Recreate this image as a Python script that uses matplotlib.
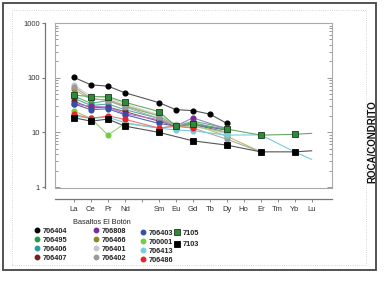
import numpy as np
import matplotlib
matplotlib.use('Agg')
import matplotlib.pyplot as plt
from matplotlib.patches import Rectangle
from matplotlib.lines import Line2D
from matplotlib.ticker import FixedLocator, FixedFormatter, LogLocator, NullFormatter

plt.rcParams['font.family'] = ['Liberation Sans', 'DejaVu Sans']

elements = ['La', 'Ce', 'Pr', 'Nd', 'Pm', 'Sm', 'Eu', 'Gd', 'Tb', 'Dy', 'Ho', 'Er', 'Tm', 'Yb', 'Lu']
tick_labels = ['La', 'Ce', 'Pr', 'Nd', '', 'Sm', 'Eu', 'Gd', 'Tb', 'Dy', 'Ho', 'Er', 'Tm', 'Yb', 'Lu']
y_ticks = [1, 10, 100, 1000]
y_tick_labels = ['1', '10', '100', '1000']
nan = np.nan

# La Ce Pr Nd Pm Sm Eu Gd Tb Dy Ho Er Tm Yb Lu
s706404 = [101, 74, 70, 53, nan, 35, 26, 25, 21.6, 14.6, nan, nan, nan, nan, nan]
s706495 = [46, 34, 38, 30, nan, 20, 13, 16, nan, 12, nan, nan, nan, nan, nan]
s706406 = [42, 31, 33, 26, nan, 18, 13, 15, nan, 11, nan, nan, nan, nan, nan]
s706407 = [37, 28, 29, 24, nan, 16, 13, 14, nan, 10, nan, nan, nan, nan, nan]
s706808 = [33, 30, 29, 22, nan, 17, 13, 18.5, nan, 11.5, nan, nan, nan, nan, nan]
s706466 = [61, 40, 40, 31, nan, 20.7, 13, 14, nan, 8.5, nan, 4.4, nan, nan, nan]
s706401 = [73, 46, 43, 33, nan, 21, 14, 13, nan, 9.5, nan, nan, nan, nan, nan]
s706402 = [68, 42, 38, 29, nan, 18, 13, 12, nan, 7.5, nan, 4.4, nan, nan, nan]
s706403 = [33, 26, 27, 21, nan, 14.6, 13, 14, nan, 11, nan, nan, nan, nan, nan]
s700001 = [24.5, 18, 8.9, 14.6, nan, 12, 13, 13, nan, 10, nan, nan, nan, nan, nan]
s706413 = [20, 18, 19, 15, nan, 12, 11, 10.7, nan, 8.9, nan, 9, nan, 4.4, 3.2]
s706486 = [21.3, 18, 20, 17.3, nan, 12, 13, 12, nan, nan, nan, nan, nan, nan, nan]
s7105 = [48, 45, 45, 35.5, nan, 24, 13, 14.2, nan, 11.5, nan, 8.9, nan, 9.2, 9.6]
s7103 = [18.5, 16, 17.5, 13, nan, 10, nan, 7.0, nan, 5.85, nan, 4.4, nan, 4.4, 4.6]

series = [
    ('706404', s706404, 'o', '#000000', '#555555'),
    ('706495', s706495, 'o', '#1f9e4a', '#55bb77'),
    ('706406', s706406, 'o', '#2a9d9d', '#55aaaa'),
    ('706407', s706407, 'o', '#7a1f1f', '#995555'),
    ('706808', s706808, 'o', '#7b2a9a', '#aa77cc'),
    ('706466', s706466, 'o', '#8a8a2a', '#bbbb66'),
    ('706401', s706401, 'o', '#c8c8d0', '#d0d0d8'),
    ('706402', s706402, 'o', '#9a9a9a', '#aaaaaa'),
    ('706403', s706403, 'o', '#3350aa', '#5566bb'),
    ('700001', s700001, 'o', '#77cc44', '#99cc77'),
    ('706413', s706413, 'o', '#77ccdd', '#77ccdd'),
    ('706486', s706486, 'o', '#ee2222', '#ee7777'),
    ('7105', s7105, 's', '#2e8b3e', '#66aa66'),
    ('7103', s7103, 's', '#000000', '#555555'),
]

W, H = 385, 281
fig = plt.figure(figsize=(W / 100, H / 100), dpi=100)
fig.patch.set_facecolor('white')

rect = [55 / W, (H - 188) / H, 277 / W, 165 / H]
ax = fig.add_axes(rect)
ax.patch.set_visible(False)
ax.set_yscale('log')
ax.set_ylim(0.96, 1000)
ax.set_xlim(-1.12, 15.2)

x = np.arange(len(elements))
for label, vals, mk, mc, lc in series:
    v = np.array(vals, dtype=float)
    ok = ~np.isnan(v)
    xs, ys = x[ok], v[ok]
    mev = [i for i, xi in enumerate(xs) if xi != 14]
    if mk == 's':
        ax.plot(xs, ys, color=lc, lw=0.8, marker='s', markersize=4.0,
                markerfacecolor=mc, markeredgecolor='#1a3a1a' if mc != '#000000' else '#000000',
                markeredgewidth=0.6, markevery=mev, zorder=4)
    else:
        ax.plot(xs, ys, color=lc, lw=0.8, marker='o', markersize=3.4,
                markerfacecolor=mc, markeredgecolor=mc, markevery=mev, zorder=3)

for side in ['top', 'right']:
    ax.spines[side].set_visible(False)
ax.spines['left'].set_position(('outward', 7.2))
ax.spines['bottom'].set_position(('outward', 7.9))
ax.spines['left'].set_color('#777777')
ax.spines['bottom'].set_color('#777777')
ax.spines['left'].set_linewidth(0.9)
ax.spines['bottom'].set_linewidth(0.9)

ax.yaxis.set_major_locator(FixedLocator(y_ticks))
ax.yaxis.set_major_formatter(FixedFormatter(y_tick_labels))
ax.yaxis.set_minor_locator(FixedLocator([]))
ax.set_xticks(x)
ax.set_xticklabels(tick_labels)
ax.tick_params(axis='y', which='major', direction='out', length=2.5, width=0.8,
               color='#777777', labelsize=5.5, pad=1, labelcolor='#333333')
ax.tick_params(axis='x', which='major', direction='out', length=2, width=0.6,
               color='#777777', labelsize=5.5, pad=3, labelcolor='#333333')

# box with inner ticks
ax2 = fig.add_axes(rect, sharex=ax)
ax2.patch.set_visible(False)
ax2.set_yscale('log')
ax2.set_ylim(0.96, 1000)
ax2.yaxis.set_major_locator(FixedLocator(y_ticks))
ax2.yaxis.set_minor_locator(LogLocator(base=10, subs=np.arange(2, 10)))
ax2.yaxis.set_major_formatter(NullFormatter())
ax2.yaxis.set_minor_formatter(NullFormatter())
ax2.tick_params(axis='y', which='both', left=True, right=True, direction='in',
                labelleft=False, labelright=False, color='#888888', width=0.6)
ax2.tick_params(axis='y', which='major', length=3.5)
ax2.tick_params(axis='y', which='minor', length=2.5)
ax2.tick_params(axis='x', which='both', bottom=False, top=False, labelbottom=False)
for s in ax2.spines.values():
    s.set_color('#aaaaaa')
    s.set_linewidth(0.8)

# frames
fig.add_artist(Rectangle((3 / W, 11 / H), 373 / W, 267 / H, transform=fig.transFigure,
                         fill=False, edgecolor='#444444', linewidth=1.3))
fig.add_artist(Rectangle((12 / W, 16 / H), 354 / W, 255 / H, transform=fig.transFigure,
                         fill=False, edgecolor='#c8c8c8', linewidth=0.6, linestyle=':'))

fig.text(372 / W, (H - 142) / H, 'ROCA/CONDRITO', rotation=90, ha='center', va='center',
         fontsize=7, fontweight='bold', color='#111111')

# legend
fig.text(102 / W, (H - 222) / H, 'Basaltos El Botón', ha='center', va='center',
         fontsize=5.3, color='#222222')

handles = []
for label, vals, mk, mc, lc in series:
    if mk == 's':
        h = Line2D([], [], linestyle='none', marker='s', markersize=3.8, markerfacecolor=mc,
                   markeredgecolor='#1a3a1a' if mc != '#000000' else '#000000', markeredgewidth=0.6)
    else:
        h = Line2D([], [], linestyle='none', marker='o', markersize=3.2, markerfacecolor=mc,
                   markeredgecolor=mc)
    handles.append((h, label))

col_specs = [
    (handles[0:4], 34, 227.5, 0.25),
    (handles[4:8], 93, 227.5, 0.25),
    (handles[8:12], 140, 229.5, 0.25),
    (handles[12:14], 174, 229.5, 0.6),
]
for hs, xp, yp, ls in col_specs:
    leg = fig.legend([h for h, _ in hs], [l for _, l in hs], loc='upper left',
                     bbox_to_anchor=(xp / W, (H - yp) / H), bbox_transform=fig.transFigure,
                     frameon=False, fontsize=5.3, handlelength=0.8, handletextpad=0.4,
                     labelspacing=ls, borderpad=0, borderaxespad=0)
    for t in leg.get_texts():
        t.set_fontweight('bold')
        t.set_color('#222222')

fig.savefig('out.png', dpi=100, facecolor='white')
